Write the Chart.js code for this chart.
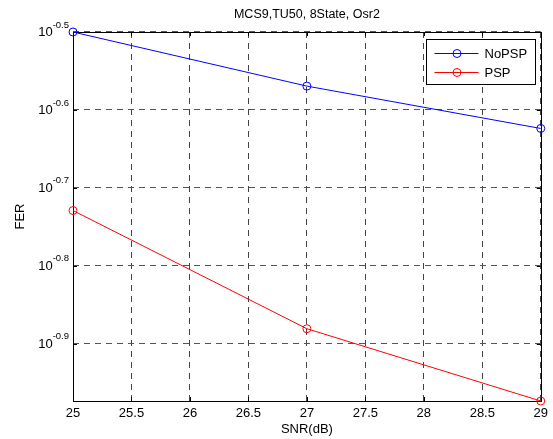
<!DOCTYPE html>
<html><head><meta charset="utf-8">
<script src="https://cdn.jsdelivr.net/npm/chart.js@4/dist/chart.umd.min.js"></script>
<style>html,body{margin:0;padding:0;background:#fff}#wrap{width:553px;height:439px}</style>
</head><body><div id="wrap"><canvas id="c" width="553" height="439"></canvas></div>
<script>
const snr = [25, 27, 29];
const noPSP = [0.3162, 0.2695, 0.2378];
const psp = [0.1866, 0.1316, 0.1063];
const xTicks = [25, 25.5, 26, 26.5, 27, 27.5, 28, 28.5, 29];
const yTickExps = [-0.5, -0.6, -0.7, -0.8, -0.9];
const seriesNames = ['NoPSP', 'PSP'];
const seriesColors = ['#0000ff', '#ff0000'];
const titleText = 'MCS9,TU50, 8State, Osr2';
const xTitle = 'SNR(dB)';
const yTitle = 'FER';

const FONT = "'Liberation Sans', Arial, Helvetica, sans-serif";
Chart.defaults.font.family = FONT;
Chart.defaults.color = '#000';

const allVals = noPSP.concat(psp);
const yMin = Math.min(...allVals), yMax = Math.max(...allVals);

function pts(xs, ys) { return xs.map((x, i) => ({x: x, y: ys[i]})); }

const boxPlugin = {
  id: 'matlabBox',
  beforeDatasetsDraw(chart) {
    const {ctx, chartArea: a, scales} = chart;
    ctx.save();
    ctx.strokeStyle = '#000';
    ctx.lineWidth = 1;
    ctx.beginPath();
    xTicks.forEach(v => {
      const x = Math.round(scales.x.getPixelForValue(v)) + 0.5;
      ctx.moveTo(x, a.bottom); ctx.lineTo(x, a.bottom - 4);
      ctx.moveTo(x, a.top); ctx.lineTo(x, a.top + 4);
    });
    yTickExps.forEach(e => {
      const y = Math.round(scales.y.getPixelForValue(Math.pow(10, e))) + 0.5;
      ctx.moveTo(a.left, y); ctx.lineTo(a.left + 4, y);
      ctx.moveTo(a.right, y); ctx.lineTo(a.right - 4, y);
    });
    ctx.stroke();
    ctx.strokeRect(Math.round(a.left) + 0.5, Math.round(a.top) + 0.5,
      Math.round(a.right) - Math.round(a.left), Math.round(a.bottom) - Math.round(a.top));
    ctx.restore();
  },
  afterDraw(chart) {
    const {ctx, chartArea: a, scales} = chart;
    ctx.save();
    yTickExps.forEach(e => {
      const y = scales.y.getPixelForValue(Math.pow(10, e));
      const sup = e.toFixed(1);
      const xr = a.left - 4;
      ctx.fillStyle = '#000';
      ctx.textAlign = 'right';
      ctx.textBaseline = 'middle';
      ctx.font = '9.5px ' + FONT;
      const sw = ctx.measureText(sup).width;
      ctx.fillText(sup, xr, y - 7);
      ctx.font = '13px ' + FONT;
      ctx.fillText('10', xr - sw, y + 0.5);
    });
    const bw = 109, bh = 45;
    const bx = Math.round(a.right - 6 - bw) + 0.5, by = Math.round(a.top + 7) + 0.5;
    ctx.fillStyle = '#fff';
    ctx.fillRect(bx, by, bw, bh);
    ctx.strokeStyle = '#000';
    ctx.lineWidth = 1;
    ctx.strokeRect(bx, by, bw, bh);
    chart.data.datasets.forEach((ds, i) => {
      const yy = Math.round(by + 13.5 + i * 19) + 0.5;
      ctx.strokeStyle = ds.borderColor;
      ctx.beginPath();
      ctx.moveTo(bx + 8, yy); ctx.lineTo(bx + 52, yy);
      ctx.stroke();
      ctx.beginPath();
      ctx.arc(bx + 30.5, yy, 4, 0, Math.PI * 2);
      ctx.stroke();
      ctx.fillStyle = '#000';
      ctx.font = '13px ' + FONT;
      ctx.textAlign = 'left';
      ctx.textBaseline = 'middle';
      ctx.fillText(ds.label, bx + 58, yy + 0.5);
    });
    ctx.restore();
  }
};

new Chart(document.getElementById('c'), {
  type: 'line',
  data: {
    datasets: [
      {label: seriesNames[0], data: pts(snr, noPSP), borderColor: seriesColors[0], pointBorderColor: seriesColors[0],
       backgroundColor: 'transparent', pointBackgroundColor: 'rgba(0,0,0,0)', borderWidth: 1, pointRadius: 4,
       pointBorderWidth: 1, pointHoverRadius: 4, tension: 0, clip: false},
      {label: seriesNames[1], data: pts(snr, psp), borderColor: seriesColors[1], pointBorderColor: seriesColors[1],
       backgroundColor: 'transparent', pointBackgroundColor: 'rgba(0,0,0,0)', borderWidth: 1, pointRadius: 4,
       pointBorderWidth: 1, pointHoverRadius: 4, tension: 0, clip: false}
    ]
  },
  options: {
    responsive: false,
    animation: false,
    events: [],
    layout: {padding: {left: 0, right: 10, top: 0, bottom: 0}},
    plugins: {
      legend: {display: false},
      tooltip: {enabled: false},
      title: {display: true, text: titleText, fullSize: false, color: '#000',
              font: {size: 12.5, weight: 'normal'}, padding: {top: 7.5, bottom: 9.5}}
    },
    scales: {
      x: {
        type: 'linear', min: snr[0], max: snr[snr.length - 1],
        afterBuildTicks(s) { s.ticks = xTicks.map(v => ({value: v})); },
        afterFit(s) { s.height = 38; },
        ticks: {font: {size: 13}, color: '#000', padding: 5, maxRotation: 0, autoSkip: false,
                callback: v => String(v)},
        grid: {color: '#444', lineWidth: 1, drawTicks: false},
        border: {display: false, dash: [6, 5]},
        title: {display: true, text: xTitle, font: {size: 13}, color: '#000', padding: {top: 0, bottom: 2}}
      },
      y: {
        type: 'logarithmic', min: yMin, max: yMax,
        afterBuildTicks(s) { s.ticks = yTickExps.map(e => ({value: Math.pow(10, e)})); },
        afterFit(s) { s.width = 73; },
        ticks: {display: false},
        grid: {color: '#555', lineWidth: 1, drawTicks: false},
        border: {display: false, dash: [6, 5]},
        title: {display: true, text: yTitle, font: {size: 13}, color: '#000', padding: {top: 13, bottom: 0}}
      }
    }
  },
  plugins: [boxPlugin]
});
</script>
</body></html>
